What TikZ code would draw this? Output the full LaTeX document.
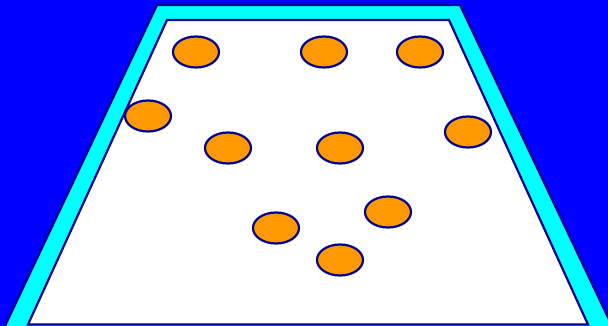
\documentclass[tikz,border=0pt]{standalone}
\usetikzlibrary{shapes.geometric}

\definecolor{rim}{HTML}{000090}
\definecolor{puck}{HTML}{FF9900}
\definecolor{ice}{HTML}{00FFFF}
\definecolor{sky}{HTML}{0000FF}

\begin{document}
\begin{tikzpicture}[
                x=1pt, y=-1pt,
                puckstyle/.style={ellipse, draw=rim, fill=puck, line width=2.2pt,
                    minimum width=46pt, minimum height=31pt, inner sep=0pt},
                every path/.style={line join=miter}
            ]
            % background
            \fill[sky] (0, 0) rectangle (608, 326);
            \useasboundingbox (0, 0) rectangle (608, 326);

            % cyan frame
            \draw[fill=ice, draw=rim, line width=2.2pt]
                (4, 328) -- (157, 5) -- (460, 5) -- (613, 328);

            % white floor
            \draw[fill=white, draw=rim, line width=2.2pt]
                (28, 324.5) -- (167, 20) -- (449, 20) -- (588, 324.5) -- cycle;

            % pucks
            \foreach \name/\x/\y in {p1/196/52, p2/324/52, p3/420/52,
                                     p4/148/116, p5/228/148, p6/340/148,
                                     p7/468/132, p8/276/228, p9/388/212,
                                     p10/340/260} {
                \node[puckstyle] (\name) at (\x, \y) {};
            }
        \end{tikzpicture}
\end{document}
